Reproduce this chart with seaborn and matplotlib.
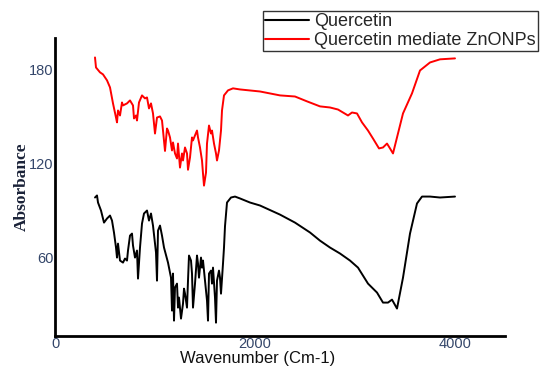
import numpy as np
import pandas as pd
import matplotlib
matplotlib.use("Agg")
import matplotlib.pyplot as plt
import seaborn as sns
from matplotlib.lines import Line2D

series_names = ["Quercetin", "Quercetin mediate ZnONPs"]

quercetin_wn = [400, 420, 430, 460, 490, 520, 550, 570, 590, 610, 620, 630, 650, 680, 700, 720, 730, 750,
                770, 780, 800, 820, 830, 850, 870, 890, 920, 940, 960, 980, 1010, 1020, 1030, 1050, 1070,
                1090, 1130, 1160, 1170, 1180, 1190, 1200, 1220, 1230, 1240, 1260, 1280, 1290, 1300, 1320,
                1330, 1340, 1360, 1370, 1380, 1400, 1420, 1430, 1440, 1460, 1470, 1480, 1500, 1520, 1530,
                1540, 1560, 1570, 1580, 1600, 1610, 1620, 1640, 1650, 1660, 1680, 1690, 1700, 1720, 1760,
                1800, 1850, 1950, 2050, 2250, 2400, 2550, 2650, 2750, 2850, 2950, 3030, 3130, 3220, 3280,
                3330, 3370, 3420, 3480, 3550, 3620, 3670, 3750, 3850, 4000]
quercetin_abs = [98.3, 99.6, 95.1, 90.0, 82.3, 84.9, 86.8, 83.6, 75.9, 66.4, 60.0, 68.9, 58.1, 56.8, 59.4,
                 58.1, 64.5, 74.0, 75.3, 67.7, 60.0, 64.5, 46.6, 66.4, 81.7, 88.1, 90.0, 83.6, 88.1, 80.4,
                 63.2, 45.3, 77.2, 80.4, 74.0, 66.4, 56.8, 47.2, 26.2, 49.8, 19.8, 40.9, 43.4, 28.1, 34.5,
                 21.1, 30.6, 40.2, 37.0, 28.1, 45.3, 61.3, 58.1, 49.8, 28.1, 43.4, 61.3, 56.2, 47.2, 60.0,
                 53.6, 58.1, 45.3, 32.6, 19.8, 49.8, 51.7, 43.4, 53.6, 34.5, 18.5, 45.3, 51.7, 47.2, 37.0,
                 56.2, 66.4, 80.0, 95.1, 98.3, 98.9, 97.7, 95.1, 93.2, 87.4, 82.3, 76.0, 70.8, 66.4, 62.6,
                 58.1, 53.6, 43.4, 37.7, 31.3, 31.3, 33.2, 27.5, 47.2, 75.3, 94.5, 98.9, 98.9, 98.3, 98.9]

znonps_wn = [400, 410, 450, 480, 520, 550, 580, 610, 620, 630, 650, 670, 680, 720, 750, 780, 790, 810, 820,
             840, 870, 900, 920, 940, 960, 980, 1000, 1020, 1050, 1070, 1080, 1100, 1120, 1130, 1150, 1170,
             1180, 1200, 1220, 1230, 1250, 1270, 1280, 1300, 1320, 1330, 1350, 1370, 1380, 1400, 1420, 1430,
             1450, 1470, 1480, 1490, 1510, 1520, 1540, 1560, 1570, 1590, 1610, 1620, 1640, 1660, 1670, 1690,
             1730, 1780, 1850, 2050, 2250, 2400, 2520, 2650, 2750, 2830, 2880, 2930, 2970, 3020, 3070, 3130,
             3180, 3240, 3280, 3320, 3350, 3380, 3420, 3480, 3570, 3650, 3750, 3850, 4000]
znonps_abs = [187.6, 181.2, 178.1, 176.8, 173.0, 168.5, 158.3, 149.3, 146.2, 153.8, 150.6, 158.9, 157.0, 158.3,
              160.2, 157.0, 148.7, 150.6, 147.4, 158.9, 163.4, 161.5, 162.1, 155.1, 158.3, 151.9, 139.1, 149.3,
              150.0, 147.4, 141.0, 128.0, 142.3, 141.0, 136.6, 128.3, 133.4, 126.4, 123.2, 132.7, 117.4, 126.4,
              121.9, 130.2, 126.4, 116.0, 123.8, 136.6, 134.7, 137.9, 141.0, 136.6, 130.2, 121.9, 113.6, 105.9,
              114.2, 132.7, 144.2, 139.1, 141.0, 132.7, 126.4, 121.9, 128.3, 141.0, 153.8, 163.4, 166.6, 167.9,
              167.2, 165.9, 163.4, 162.7, 159.6, 156.4, 155.7, 154.4, 152.5, 150.6, 152.5, 151.9, 146.2, 141.0,
              135.9, 129.6, 130.2, 132.7, 129.6, 126.4, 136.6, 151.9, 164.7, 179.3, 184.4, 186.4, 187.0]

x_ticks = [0, 2000, 4000]
y_ticks = [60, 120, 180]

df = pd.concat([
    pd.DataFrame({"wn": quercetin_wn, "abs": quercetin_abs, "sample": series_names[0]}),
    pd.DataFrame({"wn": znonps_wn, "abs": znonps_abs, "sample": series_names[1]}),
], ignore_index=True)

sns.set_style("white")
fig = plt.figure(figsize=(5.45, 3.68), dpi=100)
ax = fig.add_axes([55 / 545, 32 / 368, 450 / 545, 298 / 368])

sns.lineplot(data=df, x="wn", y="abs", hue="sample", sort=False, estimator=None,
             palette={series_names[0]: "black", series_names[1]: "red"},
             linewidth=1.4, ax=ax, legend=False)

ax.set_xlim(0, 4500)
ax.set_ylim(10, 200)
ax.set_xticks(x_ticks)
ax.set_yticks(y_ticks)
tick_color = "#34466a"
ax.tick_params(axis="both", length=0, labelsize=10.5, labelcolor=tick_color, pad=1)
ax.tick_params(axis="x", pad=1)
for lab in ax.get_xticklabels() + ax.get_yticklabels():
    lab.set_family("Liberation Sans")

for side in ["top", "right"]:
    ax.spines[side].set_visible(False)
for side in ["left", "bottom"]:
    ax.spines[side].set_color("black")
    ax.spines[side].set_linewidth(2)

ax.set_xlabel("Wavenumber (Cm-1)", family="Liberation Sans", fontsize=12, color="#111111")
ax.xaxis.set_label_coords((258 - 55) / 450, -(366 - 336) / 298)
ax.xaxis.label.set_verticalalignment("bottom")
ax.set_ylabel("Absorbance", family="Liberation Serif", fontweight="bold", fontsize=12.5,
              color="#1a2238", labelpad=-0.5)

handles = [Line2D([], [], color="black", lw=1.5), Line2D([], [], color="red", lw=1.5)]
leg = fig.legend(handles, series_names, loc="upper left", bbox_to_anchor=(263 / 545, 1 - 11 / 368),
                 frameon=True, fancybox=False, edgecolor="#333333", framealpha=1,
                 prop={"family": "Liberation Sans", "size": 13}, handlelength=2.4,
                 handletextpad=0.3, borderpad=0.12, labelspacing=0.1, borderaxespad=0)
leg.get_frame().set_linewidth(1)

fig.savefig("out.png", dpi=100)
